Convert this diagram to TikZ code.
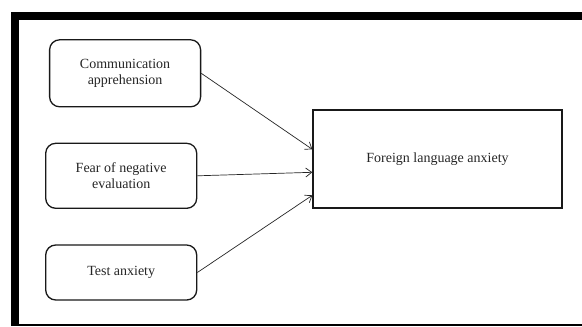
\documentclass[tikz,border=0pt]{standalone}
\usepackage{fontspec}
\setmainfont{Liberation Serif}
\usetikzlibrary{arrows.meta,calc}
\begin{document}
\begin{tikzpicture}[x=1pt,y=-1pt,
  factor/.style={draw=black!90,line width=1.3pt,rounded corners=10pt,inner sep=0pt,
    align=center,text=black!85,font=\fontsize{14}{16.5}\selectfont},
  outcome/.style={draw=black!90,line width=1.4pt,inner sep=0pt,
    align=center,text=black!85,font=\fontsize{14}{16.5}\selectfont},
  link/.style={draw=black!85,line width=0.7pt,-{Straight Barb[length=6pt,width=9pt]}}]
\useasboundingbox (0,0) rectangle (582,327);
% frame
\fill[black] (11,12) rectangle (582,326);
\fill[white] (19,20) rectangle (582,324);
% nodes
\node[factor,minimum width=151pt,minimum height=67pt] (comm) at (125.1,73.3) {Communication\\apprehension};
\node[factor,minimum width=151pt,minimum height=65pt] (fear) at (121.2,175.8) {Fear of negative\\evaluation};
\node[factor,minimum width=151pt,minimum height=55pt] (test) at (121.2,272.5) {Test anxiety};
\node[outcome,minimum width=249pt,minimum height=98pt] (fla) at (437.5,159) {Foreign language anxiety};
% arrow end points on the left side of the outcome box
\coordinate (e1) at ($(fla.north west)+(0,40)$);
\coordinate (e2) at ($(fla.north west)+(0,63)$);
\coordinate (e3) at ($(fla.north west)+(0,86)$);
\draw[link] (comm.east) -- (e1);
\draw[link] (fear.east) -- (e2);
\draw[link] (test.east) -- (e3);
\end{tikzpicture}
\end{document}
